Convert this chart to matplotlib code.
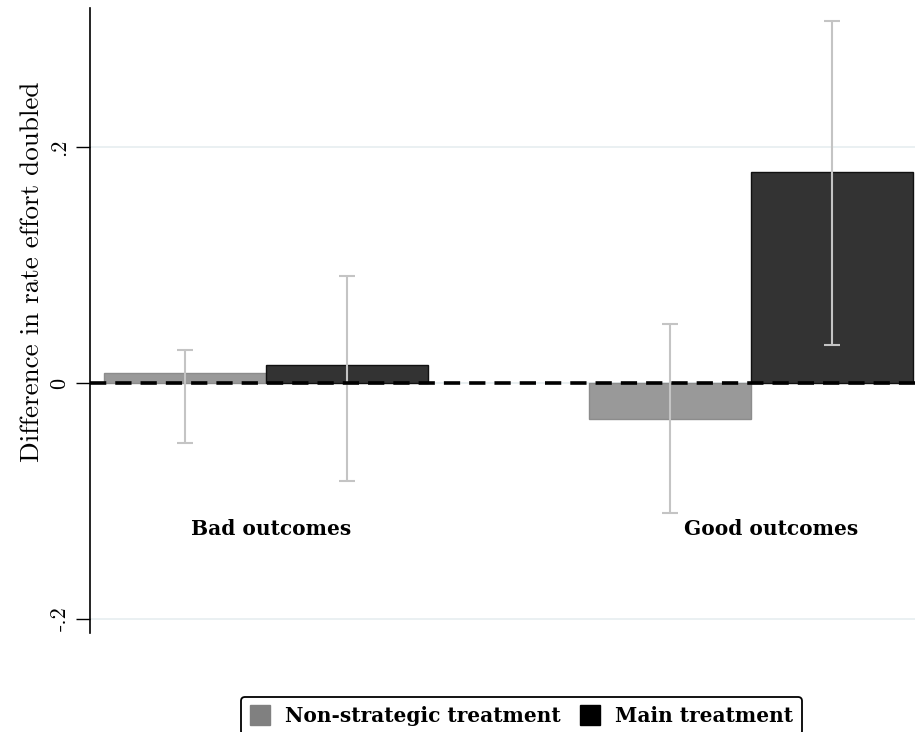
import matplotlib.pyplot as plt
from matplotlib.lines import Line2D

# mean differences and 95% CI bounds per outcome group
groups = ['Bad outcomes', 'Good outcomes']
treatments = ['Non-strategic treatment', 'Main treatment']
nonstrat_mean = [0.0085, -0.030]
nonstrat_lo = [-0.051, -0.110]
nonstrat_hi = [0.028, 0.050]
main_mean = [0.015, 0.179]
main_lo = [-0.083, 0.032]
main_hi = [0.091, 0.307]
yticks = [-0.2, 0, 0.2]
yticklabels = ['-.2', '0', '.2']

plt.rcParams['axes.unicode_minus'] = False
bold_font = {'family': 'DejaVu Serif', 'weight': 'bold'}

fig = plt.figure(figsize=(9.2, 7.32), dpi=100)
ax = fig.add_axes([0.098, 0.135, 0.897, 0.854])

width = 0.334
centers = range(len(groups))
bar_colors = ['#999999', '#333333']
edge_colors = ['#8c8c8c', '#111111']
means = [nonstrat_mean, main_mean]
los = [nonstrat_lo, main_lo]
his = [nonstrat_hi, main_hi]

for k in range(2):
    xs = [c + (k - 0.5) * width for c in centers]
    ax.bar(xs, means[k], width=width, color=bar_colors[k], edgecolor=edge_colors[k],
           linewidth=1, zorder=2)
    lower = [m - lo for m, lo in zip(means[k], los[k])]
    upper = [hi - m for m, hi in zip(means[k], his[k])]
    ax.errorbar(xs, means[k], yerr=[lower, upper], fmt='none', ecolor='#c4c4c4',
                elinewidth=1.5, capsize=5.5, capthick=1.5, zorder=3)

# reference line at zero
ax.axhline(0, color='black', linewidth=2.6, dashes=(4.5, 2.5), zorder=4)

# group labels drawn inside the plot region, nudged right a little
for c, name in zip(centers, groups):
    ax.text(c + 0.01 + 0.03 * c, -0.124, name, ha='center', va='center',
            fontsize=14.5, **bold_font)

ax.set_xlim(-0.363, 1.338)
ax.set_ylim(-0.212, 0.318)
ax.set_xticks([])
ax.set_yticks(yticks)
ax.set_yticklabels(yticklabels, rotation=90, va='center', family='cmr10', fontsize=16)
ax.tick_params(axis='y', length=10, width=1, pad=5)
ax.yaxis.grid(True, color='#e6eef0', linewidth=1.2, zorder=0)
ax.set_axisbelow(True)
for side in ['top', 'right', 'bottom']:
    ax.spines[side].set_visible(False)
ax.spines['left'].set_linewidth(1.2)
ax.set_ylabel('Difference in rate effort doubled', family='cmr10', fontsize=19.5)
ax.yaxis.set_label_coords(-0.056, 0.578)

handles = [Line2D([], [], linestyle='none', marker='s', markersize=15,
                  markerfacecolor=col, markeredgecolor=col)
           for col in ['#808080', '#000000']]
leg = fig.legend(handles, treatments, loc='upper center', bbox_to_anchor=(0.567, 0.048),
                 ncol=2, frameon=True, fancybox=True, edgecolor='black', framealpha=1,
                 prop={'family': 'DejaVu Serif', 'weight': 'bold', 'size': 14.5},
                 handlelength=0.9, handletextpad=0.8, columnspacing=1.0, borderpad=0.45,
                 borderaxespad=0)
leg.get_frame().set_linewidth(1.3)

fig.savefig('out.png', dpi=100)
